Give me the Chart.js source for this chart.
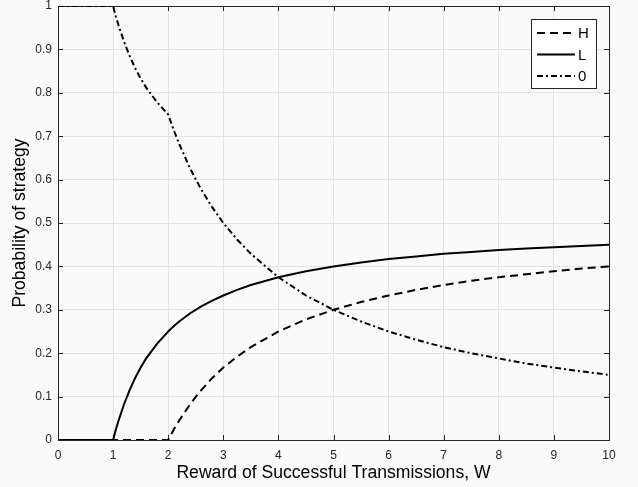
<!DOCTYPE html>
<html>
<head>
<meta charset="utf-8">
<script src="https://cdn.jsdelivr.net/npm/chart.js@4/dist/chart.umd.min.js"></script>
<style>
  html, body { margin: 0; padding: 0; background: #fafafa; }
  #wrap { width: 638px; height: 487px; }
</style>
</head>
<body>
<div id="wrap"><canvas id="probChart" width="638" height="487"></canvas></div>
<script>
// reward values W (x axis)
var rewards = [0, 0.5, 1, 1.05, 1.1, 1.2, 1.3, 1.4, 1.5, 1.6, 1.8, 2, 2.1, 2.2, 2.4, 2.6, 2.8, 3, 3.25, 3.5, 4, 4.5, 5, 5.5, 6, 6.5, 7, 7.5, 8, 8.5, 9, 9.5, 10];

// probability of each strategy
var probH = [0, 0, 0, 0, 0, 0, 0, 0, 0, 0, 0, 0, 0.024, 0.045, 0.083, 0.115, 0.143, 0.167, 0.192, 0.214, 0.25, 0.278, 0.3, 0.318, 0.333, 0.346, 0.357, 0.367, 0.375, 0.382, 0.389, 0.395, 0.4];
var probL = [0, 0, 0, 0.024, 0.045, 0.083, 0.115, 0.143, 0.167, 0.188, 0.222, 0.25, 0.262, 0.273, 0.292, 0.308, 0.321, 0.333, 0.346, 0.357, 0.375, 0.389, 0.4, 0.409, 0.417, 0.423, 0.429, 0.433, 0.438, 0.441, 0.444, 0.447, 0.45];
var prob0 = [1, 1, 1, 0.976, 0.955, 0.917, 0.885, 0.857, 0.833, 0.812, 0.778, 0.75, 0.714, 0.682, 0.625, 0.577, 0.536, 0.5, 0.462, 0.429, 0.375, 0.333, 0.3, 0.273, 0.25, 0.231, 0.214, 0.2, 0.188, 0.176, 0.167, 0.158, 0.15];

var seriesNames = ['H', 'L', '0'];
var xTicks = [0, 1, 2, 3, 4, 5, 6, 7, 8, 9, 10];
var yTicks = [0, 0.1, 0.2, 0.3, 0.4, 0.5, 0.6, 0.7, 0.8, 0.9, 1];

var axisColor = '#262626';
var fontFamily = '"Liberation Sans", Arial, Helvetica, sans-serif';

function toPoints(ys) {
    return rewards.map(function (w, i) { return { x: w, y: ys[i] }; });
}

//- frame with inward tick marks (matlab style box) -
var framePlugin = {
    id: 'frame',
    beforeDatasetsDraw: function (chart) {
        var ctx = chart.ctx, a = chart.chartArea;
        var xs = chart.scales.x, ys = chart.scales.y;
        var len = 5;
        ctx.save();
        ctx.strokeStyle = axisColor;
        ctx.lineWidth = 1;
        ctx.beginPath();
        xTicks.forEach(function (v) {
            var px = Math.round(xs.getPixelForValue(v)) + 0.5;
            ctx.moveTo(px, a.bottom); ctx.lineTo(px, a.bottom - len);
            ctx.moveTo(px, a.top); ctx.lineTo(px, a.top + len);
        });
        yTicks.forEach(function (v) {
            var py = Math.round(ys.getPixelForValue(v)) + 0.5;
            ctx.moveTo(a.left, py); ctx.lineTo(a.left + len, py);
            ctx.moveTo(a.right, py); ctx.lineTo(a.right - len, py);
        });
        ctx.stroke();
        ctx.strokeRect(Math.round(a.left) + 0.5, Math.round(a.top) + 0.5,
            Math.round(a.right - a.left), Math.round(a.bottom - a.top));
        ctx.restore();
    }
};

//- legend box in the upper right corner -
var boxLegendPlugin = {
    id: 'boxLegend',
    afterDraw: function (chart) {
        var ctx = chart.ctx, a = chart.chartArea;
        var bx = a.right - 78, by = a.top + 13, bw = 65, bh = 69;
        ctx.save();
        ctx.fillStyle = '#ffffff';
        ctx.fillRect(bx, by, bw, bh);
        ctx.strokeStyle = axisColor;
        ctx.lineWidth = 1;
        ctx.strokeRect(bx + 0.5, by + 0.5, bw, bh);
        ctx.font = '15px ' + fontFamily;
        ctx.textBaseline = 'middle';
        chart.data.datasets.forEach(function (ds, i) {
            var cy = by + 14 + i * 21.5;
            ctx.beginPath();
            ctx.setLineDash(ds.borderDash || []);
            ctx.lineWidth = ds.borderWidth;
            ctx.strokeStyle = ds.borderColor;
            ctx.moveTo(bx + 6, cy);
            ctx.lineTo(bx + 44, cy);
            ctx.stroke();
            ctx.setLineDash([]);
            ctx.fillStyle = '#000';
            ctx.fillText(ds.label, bx + 47, cy + 1);
        });
        ctx.restore();
    }
};

var probChart = new Chart(document.getElementById('probChart'), {
    type: 'line',
    data: {
        datasets: [
            {
                label: seriesNames[0],
                data: toPoints(probH),
                borderColor: '#000',
                borderWidth: 2,
                borderDash: [8, 5]
            },
            {
                label: seriesNames[1],
                data: toPoints(probL),
                borderColor: '#000',
                borderWidth: 2
            },
            {
                label: seriesNames[2],
                data: toPoints(prob0),
                borderColor: '#000',
                borderWidth: 2,
                borderDash: [6, 3, 2, 3]
            }
        ]
    },
    options: {
        responsive: false,
        animation: false,
        layout: { padding: { top: 6, right: 29, left: 0, bottom: 0 } },
        elements: {
            point: { radius: 0 },
            line: { tension: 0, fill: false }
        },
        plugins: {
            legend: { display: false },
            tooltip: { enabled: false }
        },
        scales: {
            x: {
                type: 'linear',
                min: 0,
                max: 10,
                afterFit: function (s) { s.height = 47; },
                afterBuildTicks: function (s) { s.ticks = xTicks.map(function (v) { return { value: v }; }); },
                grid: { color: '#e3e3e3', drawTicks: false },
                border: { display: false },
                ticks: {
                    color: axisColor,
                    padding: 8,
                    maxRotation: 0,
                    font: { family: fontFamily, size: 12 }
                },
                title: {
                    display: true,
                    text: 'Reward of Successful Transmissions, W',
                    color: '#000',
                    font: { family: fontFamily, size: 17.6 },
                    padding: { top: 0, bottom: 3 }
                }
            },
            y: {
                type: 'linear',
                min: 0,
                max: 1,
                afterFit: function (s) {
                    s.width = 58;
                    s.paddingTop = 0;
                    s.paddingBottom = 0;
                },
                afterBuildTicks: function (s) { s.ticks = yTicks.map(function (v) { return { value: v }; }); },
                grid: { color: '#e3e3e3', drawTicks: false },
                border: { display: false },
                ticks: {
                    color: axisColor,
                    padding: 6,
                    font: { family: fontFamily, size: 12 },
                    callback: function (v) { return String(Math.round(v * 10) / 10); }
                },
                title: {
                    display: true,
                    text: 'Probability of strategy',
                    color: '#000',
                    font: { family: fontFamily, size: 17.6 },
                    padding: { top: 10, bottom: 0 }
                }
            }
        }
    },
    plugins: [framePlugin, boxLegendPlugin]
});
</script>
</body>
</html>
